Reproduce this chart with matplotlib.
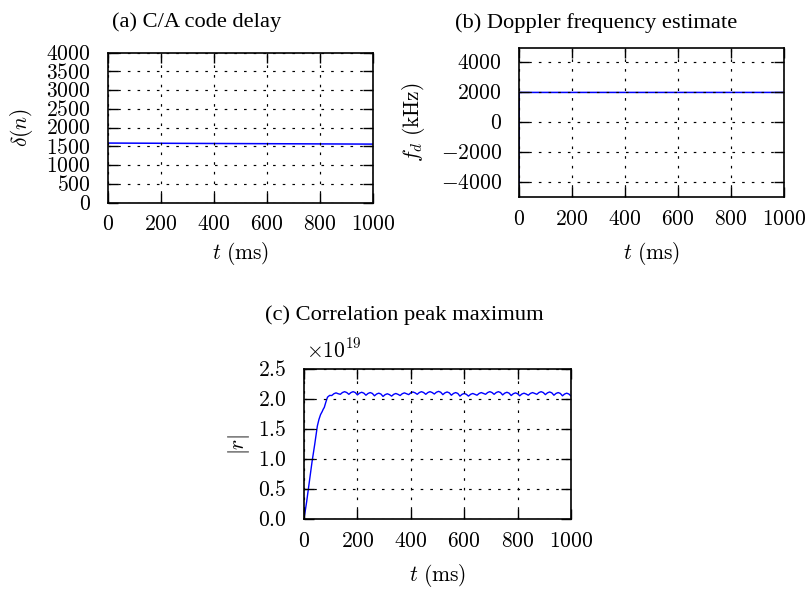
import matplotlib
matplotlib.use("Agg")
import matplotlib.pyplot as plt
from matplotlib.ticker import FuncFormatter

plt.rcParams['mathtext.fontset'] = 'cm'
plt.rcParams['font.family'] = ['Liberation Serif', 'DejaVu Serif']

# ---- data ----
# (a) C/A code delay
t_a = [0, 1000]
delay_a = [1585, 1557]

# (b) Doppler frequency estimate (kHz)
t_b = [0, 1, 1000]
fd_b = [-5000, 1995, 1995]

# (c) Correlation peak maximum (units of 1e19)
t_c_ramp = [0, 10, 20, 30, 40, 50, 56, 62, 68, 72, 76, 82, 88, 96]
r_c_ramp = [0.0, 0.29, 0.62, 0.95, 1.24, 1.55, 1.66, 1.74, 1.79, 1.83, 1.86, 1.95, 2.03, 2.06]
t_c_rest = list(range(104, 1001, 8))
r_c_rest = [
    2.058, 2.088, 2.102, 2.088,
    2.078, 2.108, 2.122, 2.108,
    2.078, 2.108, 2.122, 2.108,
    2.068, 2.098, 2.112, 2.098,
    2.063, 2.093, 2.107, 2.093,
    2.053, 2.083, 2.097, 2.083,
    2.043, 2.073, 2.087, 2.073,
    2.048, 2.078, 2.092, 2.078,
    2.058, 2.088, 2.102, 2.088,
    2.073, 2.103, 2.117, 2.103,
    2.078, 2.108, 2.122, 2.108,
    2.078, 2.108, 2.122, 2.108,
    2.083, 2.113, 2.127, 2.113,
    2.073, 2.103, 2.117, 2.103,
    2.063, 2.093, 2.107, 2.093,
    2.048, 2.078, 2.092, 2.078,
    2.048, 2.078, 2.092, 2.078,
    2.063, 2.093, 2.107, 2.093,
    2.078, 2.108, 2.122, 2.108,
    2.078, 2.108, 2.122, 2.108,
    2.068, 2.098, 2.112, 2.098,
    2.058, 2.088, 2.102, 2.088,
    2.053, 2.083, 2.097, 2.083,
    2.063, 2.093, 2.107, 2.093,
    2.078, 2.108, 2.122, 2.108,
    2.073, 2.103, 2.117, 2.103,
    2.063, 2.093, 2.107, 2.093,
    2.053, 2.083, 2.097, 2.083,
    2.050,
]
t_c = t_c_ramp + t_c_rest
r_c = r_c_ramp + r_c_rest

x_ticks = [0, 200, 400, 600, 800, 1000]
y_ticks_a = [0, 500, 1000, 1500, 2000, 2500, 3000, 3500, 4000]
y_ticks_b = [-4000, -2000, 0, 2000, 4000]
y_ticks_c = [0.0, 0.5, 1.0, 1.5, 2.0, 2.5]

titles = ["(a) C/A code delay", "(b) Doppler frequency estimate", "(c) Correlation peak maximum"]

# ---- figure ----
W, H = 805, 591
fig = plt.figure(figsize=(W / 100, H / 100), dpi=100)

def px_axes(l, t, r, b):
    return fig.add_axes([l / W, 1 - b / H, (r - l) / W, (b - t) / H])

ax_a = px_axes(108, 52.5, 373, 202.5)
ax_b = px_axes(519, 47.5, 784, 197)
ax_c = px_axes(304, 369, 571, 519)

FS = 15.5
TFS = 16.2
int_fmt = FuncFormatter(lambda v, p: r'$%d$' % v if v >= 0 else r'$-%d$' % (-v))
dec_fmt = FuncFormatter(lambda v, p: r'$%.1f$' % v)

def style(ax, yticks, ylim, yfmt):
    ax.set_xlim(0, 1000)
    ax.set_ylim(*ylim)
    ax.set_xticks(x_ticks)
    ax.set_yticks(yticks)
    ax.xaxis.set_major_formatter(int_fmt)
    ax.yaxis.set_major_formatter(yfmt)
    ax.tick_params(direction='in', length=7.5, width=1.0, top=True, right=True,
                   labelsize=FS, pad=10, color='black')
    ax.tick_params(axis='y', pad=12.5)
    ax.grid(True, color='black', linewidth=0.85, linestyle=(0, (2.2, 6.0)))
    for s in ax.spines.values():
        s.set_linewidth(1.2)
        s.set_color('black')
    ax.set_axisbelow(False)

ax_a.plot(t_a, delay_a, color='#0000ff', linewidth=1.1)
style(ax_a, y_ticks_a, (0, 4000), int_fmt)
ax_a.set_ylabel(r'$\delta(n)$', fontsize=FS, labelpad=8)
ax_a.set_xlabel(r'$t\ (\mathrm{ms})$', fontsize=FS, labelpad=3)

ax_b.plot(t_b, fd_b, color='#0000ff', linewidth=1.1)
style(ax_b, y_ticks_b, (-5000, 5000), int_fmt)
ax_b.set_ylabel(r'$f_d\ (\mathrm{kHz})$', fontsize=FS, labelpad=10)
ax_b.set_xlabel(r'$t\ (\mathrm{ms})$', fontsize=FS, labelpad=7)

ax_c.plot(t_c, r_c, color='#0000ff', linewidth=1.0)
style(ax_c, y_ticks_c, (0, 2.5), dec_fmt)
ax_c.set_ylabel(r'$|r|$', fontsize=FS, labelpad=4)
ax_c.set_xlabel(r'$t\ (\mathrm{ms})$', fontsize=FS, labelpad=7)
fig.text(306 / W, 1 - 351 / H, r'$\times10^{19}$', fontsize=FS, ha='left', va='center')

fig.text(197 / W, 1 - 22 / H, titles[0], fontsize=TFS, ha='center', va='center')
fig.text(596 / W, 1 - 23 / H, titles[1], fontsize=TFS, ha='center', va='center')
fig.text(404 / W, 1 - 315 / H, titles[2], fontsize=TFS, ha='center', va='center')

fig.savefig("out.png", dpi=100)
